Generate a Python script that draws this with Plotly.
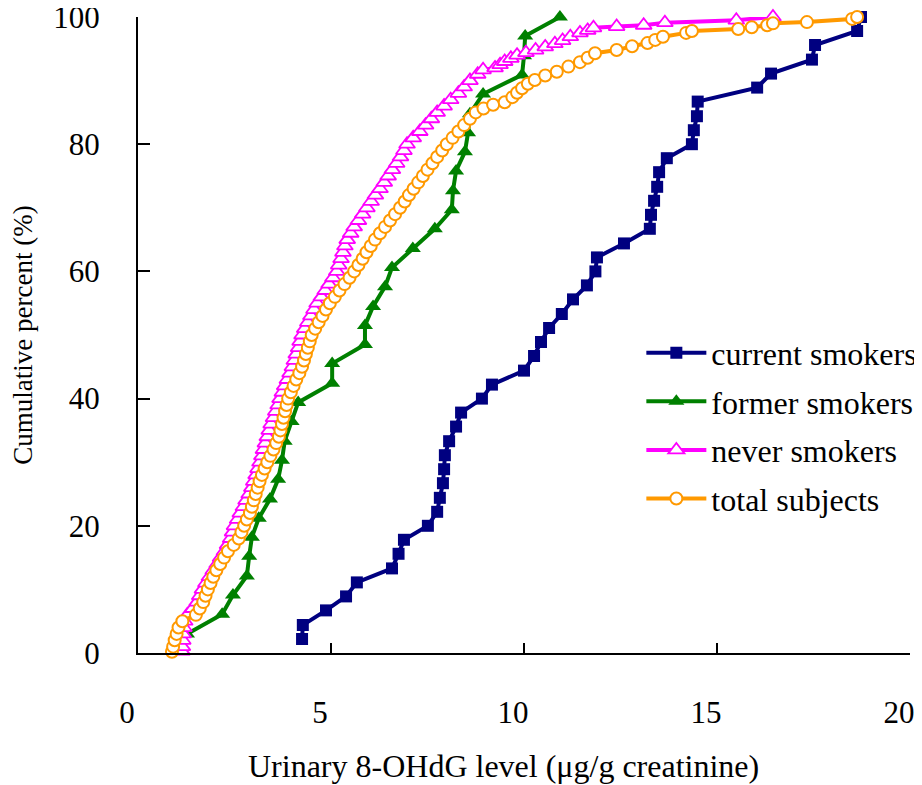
import plotly.graph_objects as go

# ---------------- data ----------------
current_x = [4.25, 4.27, 4.87, 5.39, 5.67, 6.58, 6.75, 6.89, 7.51, 7.75, 7.82, 7.90, 7.93, 7.95,
             8.06, 8.24, 8.37, 8.91, 9.17, 10.0, 10.26, 10.44, 10.65, 10.98, 11.27, 11.63, 11.85,
             11.89, 12.59, 13.26, 13.29, 13.37, 13.45, 13.50, 13.70, 14.35, 14.40, 14.48, 14.50,
             16.04, 16.40, 17.46, 17.54, 18.63, 18.73]
current_y = [2.2, 4.4, 6.7, 8.9, 11.1, 13.3, 15.6, 17.8, 20.0, 22.2, 24.4, 26.7, 28.9, 31.1,
             33.3, 35.6, 37.8, 40.0, 42.2, 44.4, 46.7, 48.9, 51.1, 53.3, 55.6, 57.8, 60.0,
             62.2, 64.4, 66.7, 68.9, 71.1, 73.3, 75.6, 77.8, 80.0, 82.2, 84.4, 86.7,
             88.9, 91.1, 93.3, 95.6, 97.8, 100.0]

former_x = [1.27, 2.18, 2.46, 2.82, 2.88, 2.95, 3.13, 3.42, 3.63, 3.73, 3.80, 3.98, 4.15, 5.03,
            5.03, 5.88, 5.88, 6.09, 6.40, 6.58, 7.12, 7.69, 8.13, 8.16, 8.24, 8.47, 8.55, 8.60,
            8.94, 9.95, 10.00, 10.03, 10.93]
former_y = [3.0, 6.1, 9.1, 12.1, 15.2, 18.2, 21.2, 24.2, 27.3, 30.3, 33.3, 36.4, 39.4, 42.4,
            45.5, 48.5, 51.5, 54.5, 57.6, 60.6, 63.6, 66.7, 69.7, 72.7, 75.8, 78.8, 81.8, 84.8,
            87.9, 90.9, 93.9, 97.0, 100.0]

never_x = [1.14, 1.15, 1.16, 1.17, 1.19, 1.21, 1.28, 1.42, 1.53, 1.60, 1.67, 1.76, 1.85, 1.95,
           2.05, 2.14, 2.24, 2.32, 2.40, 2.45, 2.50, 2.58, 2.65, 2.73, 2.80, 2.88, 2.95, 3.00,
           3.06, 3.11, 3.16, 3.21, 3.25, 3.30, 3.35, 3.40, 3.45, 3.51, 3.57, 3.63, 3.68, 3.74,
           3.80, 3.87, 3.94, 4.00, 4.05, 4.10, 4.16, 4.20, 4.25, 4.32, 4.40, 4.48, 4.56, 4.64,
           4.75, 4.85, 4.95, 5.05, 5.15, 5.20, 5.26, 5.31, 5.36, 5.42, 5.51, 5.60, 5.71, 5.82,
           5.93, 6.04, 6.15, 6.27, 6.38, 6.48, 6.59, 6.70, 6.80, 6.89, 6.97, 7.13, 7.30, 7.45,
           7.60, 7.75, 7.93, 8.10, 8.30, 8.45, 8.60,
           8.80, 8.94, 9.25, 9.38, 9.50, 9.66, 9.82, 10.05, 10.30, 10.55, 10.80, 11.00, 11.20,
           11.45, 11.65, 11.80, 12.40, 13.10, 13.65, 15.50, 16.45]
never_y = [0.3, 1, 2, 3, 4, 5, 6, 7, 8, 9, 10, 11, 12, 13, 14, 15, 16, 17, 18, 19, 20, 21, 22, 23,
           24, 25, 26, 27, 28, 29, 30, 31, 32, 33, 34, 35, 36, 37, 38, 39, 40, 41, 42, 43, 44, 45,
           46, 47, 48, 49, 50, 51, 52, 53, 54, 55, 56, 57, 58, 59, 60, 61, 62, 63, 64, 65, 66, 67,
           68, 69, 70, 71, 72, 73, 74, 75, 76, 77, 78, 79, 80, 81, 82, 83, 84, 85, 86, 87, 88, 89,
           90,
           91, 91.7, 92, 92.5, 93, 93.5, 94, 94.4, 94.8, 95.3, 95.8, 96.3, 96.9,
           97.5, 97.9, 98.3, 98.5, 98.7, 99.1, 99.5, 100]

total_x = [0.88, 0.91, 0.95, 1.00, 1.05, 1.15, 1.50, 1.60, 1.69, 1.75, 1.81, 1.88, 1.95, 2.03,
           2.13, 2.23, 2.33, 2.48, 2.61, 2.68, 2.75, 2.82, 2.90, 2.95, 3.00, 3.05, 3.10, 3.15,
           3.21, 3.28, 3.35, 3.43, 3.51, 3.58, 3.65, 3.69, 3.73, 3.77, 3.81, 3.85, 3.89, 3.96,
           4.03, 4.10, 4.18, 4.25, 4.30, 4.35, 4.40, 4.45, 4.50, 4.59, 4.68, 4.78, 4.87, 4.97,
           5.10, 5.22, 5.35, 5.48, 5.60, 5.71, 5.82, 5.92, 6.03, 6.14, 6.27, 6.40, 6.53, 6.66,
           6.79, 6.91, 7.02, 7.14, 7.26, 7.38, 7.50, 7.63, 7.75, 7.88, 8.00, 8.15, 8.30, 8.45,
           8.60, 8.75,
           8.95, 9.20, 9.50, 9.70, 9.82, 9.95, 10.10, 10.28, 10.55, 10.85, 11.15, 11.45, 11.65,
           11.84, 12.40, 12.80, 13.20, 13.40, 13.60, 14.20, 14.35, 15.55, 15.90, 16.30, 16.45,
           17.33, 18.50, 18.63]
total_y = [0.2, 1, 2, 3, 4, 5, 6, 7, 8, 9, 10, 11, 12, 13, 14, 15, 16, 17, 18, 19, 20, 21, 22, 23,
           24, 25, 26, 27, 28, 29, 30, 31, 32, 33, 34, 35, 36, 37, 38, 39, 40, 41, 42, 43, 44, 45,
           46, 47, 48, 49, 50, 51, 52, 53, 54, 55, 56, 57, 58, 59, 60, 61, 62, 63, 64, 65, 66, 67,
           68, 69, 70, 71, 72, 73, 74, 75, 76, 77, 78, 79, 80, 81, 82, 83, 84, 85,
           85.6, 86.2, 86.6, 87.4, 88.1, 88.8, 89.5, 90.1, 90.8, 91.4, 92.2, 92.9, 93.6,
           94.3, 94.8, 95.4, 95.9, 96.4, 96.9, 97.5, 97.8, 98.1, 98.4, 98.7, 99.0,
           99.2, 99.7, 100.0]

x_ticks = [0, 5, 10, 15, 20]
y_ticks = [0, 20, 40, 60, 80, 100]
x_title = "Urinary 8-OHdG level (μg/g creatinine)"
y_title = "Cumulative percent (%)"

FONT = "Liberation Serif"

fig = go.Figure()
fig.add_trace(go.Scatter(
    x=current_x, y=current_y, name="current smokers", mode="lines+markers",
    line=dict(color="#000080", width=4),
    marker=dict(symbol="square", size=12, color="#000080"),
    cliponaxis=False, legendgroup="a"))
fig.add_trace(go.Scatter(
    x=former_x, y=former_y, name="former smokers", mode="lines+markers",
    line=dict(color="#008000", width=4),
    marker=dict(symbol="triangle-up", size=14, color="#008000"),
    cliponaxis=False, legendgroup="b"))
fig.add_trace(go.Scatter(
    x=never_x, y=never_y, name="never smokers", mode="lines+markers",
    line=dict(color="#FF00FF", width=4),
    marker=dict(symbol="triangle-up", size=14, color="white",
                line=dict(color="#FF00FF", width=1.8)),
    cliponaxis=False, legendgroup="c"))
fig.add_trace(go.Scatter(
    x=total_x, y=total_y, name="total subjects", mode="lines+markers",
    line=dict(color="#FF9900", width=4),
    marker=dict(symbol="circle", size=12, color="white",
                line=dict(color="#FF9900", width=2)),
    cliponaxis=False, legendgroup="d"))

# page body has an 8px margin, so the figure is sized/offset to fit the window
fig.update_layout(
    width=914, height=777,
    margin=dict(l=130, r=12, t=9, b=132, autoexpand=False),
    paper_bgcolor="white", plot_bgcolor="white",
    font=dict(family=FONT, size=31, color="black"),
    showlegend=True,
    legend=dict(x=0.652, y=0.515, xanchor="left", yanchor="top",
                font=dict(family=FONT, size=32, color="black"),
                bgcolor="rgba(0,0,0,0)", traceorder="grouped",
                tracegroupgap=4, itemwidth=60),
    annotations=[dict(text=x_title, xref="paper", yref="paper",
                      x=0.473, y=-0.178, xanchor="center", yanchor="middle",
                      showarrow=False,
                      font=dict(family=FONT, size=32, color="black"))],
)
fig.update_xaxes(
    range=[0, 20], tickvals=x_ticks, ticktext=[str(v) for v in x_ticks],
    automargin=False, ticklabeloverflow="allow",
    showline=True, linecolor="black", linewidth=2, mirror=False,
    ticks="inside", ticklen=10, tickwidth=2, tickcolor="black",
    showgrid=False, zeroline=False,
    tickfont=dict(family=FONT, size=31, color="black"),
    ticklabelstandoff=31, ticklabelshift=-11,
)
fig.update_yaxes(
    range=[0, 100], tickvals=y_ticks, ticktext=[str(v) for v in y_ticks],
    automargin=False, ticklabeloverflow="allow",
    showline=True, linecolor="black", linewidth=2, mirror=False,
    ticks="inside", ticklen=12, tickwidth=2, tickcolor="black",
    showgrid=False, zeroline=False,
    tickfont=dict(family=FONT, size=31, color="black"),
    ticklabelstandoff=30,
    title=dict(text=y_title,
               font=dict(family=FONT, size=27, color="black"), standoff=18),
)

fig.write_html("out.html")
